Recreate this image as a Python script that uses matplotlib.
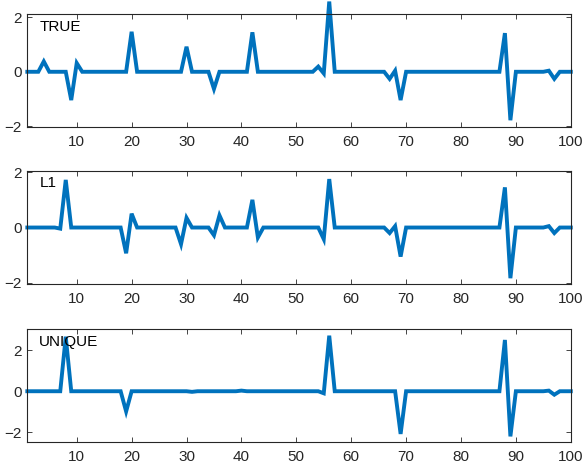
import numpy as np
import matplotlib
matplotlib.use("Agg")
from matplotlib import pyplot as plt

# sparse spikes: position (1..100) and value
true_pos = [4, 9, 10, 20, 30, 35, 42, 54, 55, 56, 67, 68, 69, 88, 89, 96, 97]
true_val = [0.38, -1.04, 0.32, 1.47, 0.92, -0.63, 1.45, 0.19, -0.06, 2.58,
            -0.26, 0.04, -1.04, 1.42, -1.78, 0.04, -0.26]

l1_pos = [7, 8, 19, 20, 29, 30, 35, 36, 42, 43, 55, 56, 67, 68, 69, 88, 89, 96, 97]
l1_val = [-0.04, 1.72, -0.93, 0.5, -0.6, 0.35, -0.28, 0.44, 1.0, -0.36,
          -0.42, 1.75, -0.2, 0.05, -1.05, 1.45, -1.83, 0.05, -0.2]

uniq_pos = [8, 19, 31, 40, 55, 56, 69, 88, 89, 96, 97]
uniq_val = [2.67, -0.99, -0.03, 0.03, -0.1, 2.72, -2.09, 2.51, -2.21, 0.03, -0.17]

names = ["TRUE", "L1", "UNIQUE"]
ylims = [(-2.04, 2.11), (-2.04, 2.04), (-2.5, 3.03)]
N = 100

def build(pos, val):
    y = np.zeros(N)
    for p, v in zip(pos, val):
        y[p - 1] = v
    return y

series = [build(true_pos, true_val), build(l1_pos, l1_val), build(uniq_pos, uniq_val)]

plt.rcParams['font.family'] = ['Liberation Sans', 'DejaVu Sans']
plt.rcParams['font.size'] = 11

fig = plt.figure(figsize=(5.85, 4.70), dpi=100)
bottoms = [0.7291, 0.3957, 0.0589]
x = np.arange(1, N + 1)
dark = '#262626'
for i in range(3):
    ax = fig.add_axes([0.0467, bottoms[i], 0.929, 0.2404])
    ax.plot(x, series[i], color='#0072BD', lw=2.8, solid_joinstyle='miter', clip_on=False)
    ax.set_xlim(1, 100)
    ax.set_ylim(*ylims[i])
    ax.set_xticks(range(10, 101, 10))
    ax.set_yticks([-2, 0, 2])
    ax.tick_params(direction='in', length=3.6, width=0.6, colors=dark,
                   top=True, right=True, labelsize=11, pad=4)
    ax.tick_params(axis='x', pad=5.5)
    for s in ax.spines.values():
        s.set_color(dark)
        s.set_linewidth(0.8)
    ax.text(0.022, 0.89, names[i], transform=ax.transAxes, va='center', ha='left',
            fontsize=11, color='black')

fig.savefig("out.png", dpi=100)
